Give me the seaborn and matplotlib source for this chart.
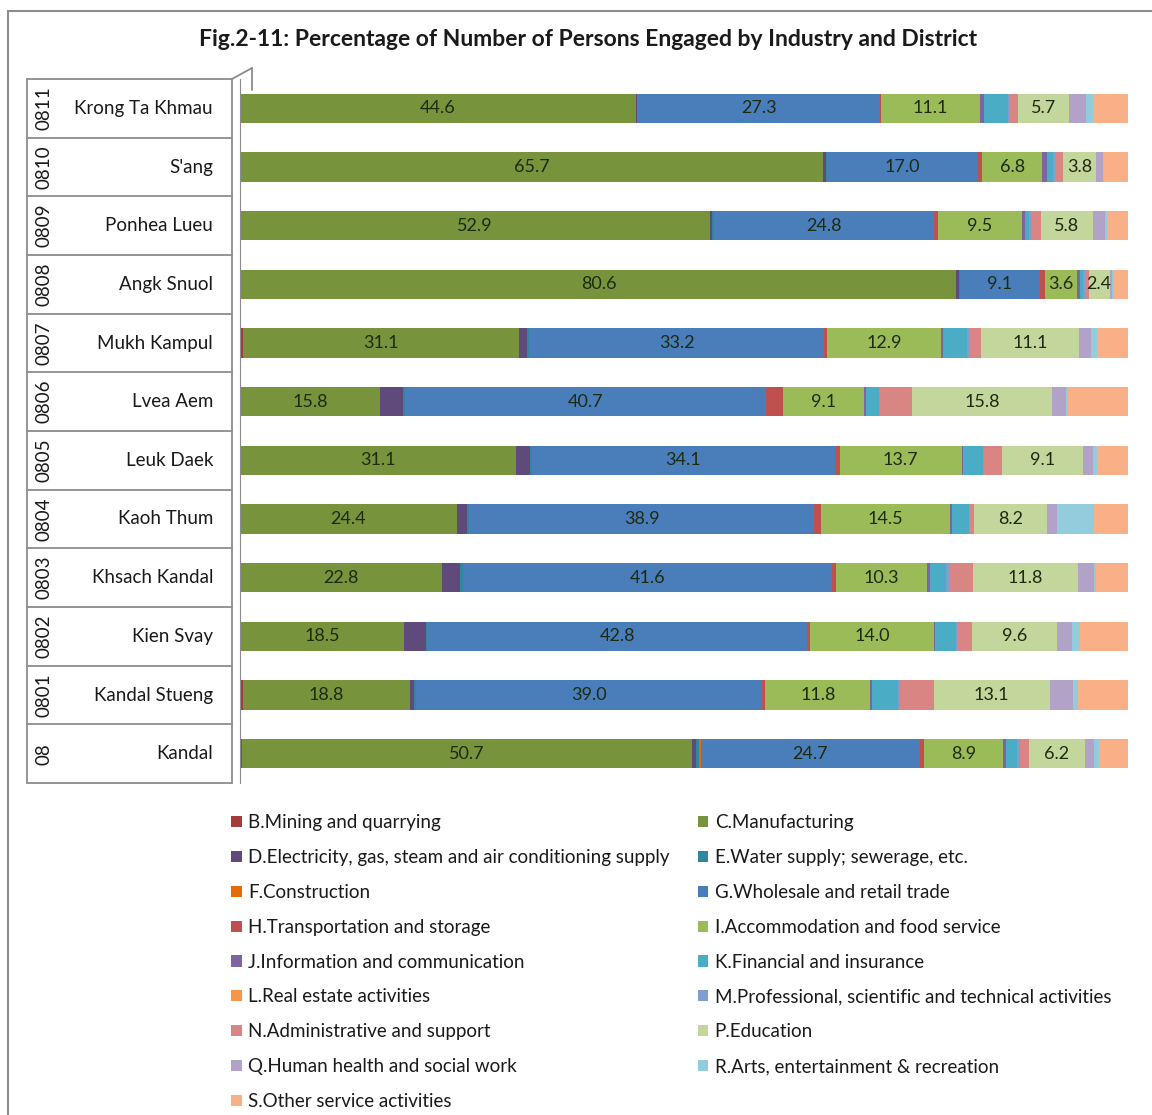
#!/usr/bin/env python3
import numpy as np
import pandas as pd
import seaborn as sns
from matplotlib import pyplot as plt
from matplotlib.patches import Patch, Rectangle
from matplotlib.lines import Line2D

codes = ["0811", "0810", "0809", "0808", "0807", "0806", "0805", "0804", "0803", "0802", "0801", "08"]
districts = ["Krong Ta Khmau", "S'ang", "Ponhea Lueu", "Angk Snuol", "Mukh Kampul", "Lvea Aem",
	"Leuk Daek", "Kaoh Thum", "Khsach Kandal", "Kien Svay", "Kandal Stueng", "Kandal"]

industries = ["B.Mining and quarrying", "C.Manufacturing",
	"D.Electricity, gas, steam and air conditioning supply", "E.Water supply; sewerage, etc.",
	"F.Construction", "G.Wholesale and retail trade", "H.Transportation and storage",
	"I.Accommodation and food service", "J.Information and communication",
	"K.Financial and insurance", "L.Real estate activities",
	"M.Professional, scientific and technical activities", "N.Administrative and support",
	"P.Education", "Q.Human health and social work", "R.Arts, entertainment & recreation",
	"S.Other service activities"]
colors = ["#A33B3A", "#77933C", "#5F4A7B", "#31859C", "#E46C0A", "#4A7EBB", "#C0504D",
	"#9BBB59", "#8064A2", "#4BACC6", "#F79646", "#7F9FCF", "#D98583", "#C3D69B",
	"#B3A2C7", "#93CDDD", "#FAB086"]

# percentages per district, order B..S (one list per industry, districts top -> bottom)
B = [0.0, 0.0, 0.0, 0.15, 0.3, 0.0, 0.0, 0.0, 0.0, 0.0, 0.3, 0.2]
C = [44.6, 65.7, 52.9, 80.6, 31.1, 15.8, 31.1, 24.4, 22.8, 18.5, 18.8, 50.7]
D = [0.1, 0.3, 0.3, 0.3, 0.9, 2.6, 1.6, 1.2, 2.0, 2.5, 0.5, 0.5]
E = [0.1, 0.1, 0.2, 0.1, 0.3, 0.2, 0.2, 0.2, 0.3, 0.1, 0.2, 0.3]
F = [0.0, 0.0, 0.0, 0.0, 0.0, 0.0, 0.0, 0.0, 0.0, 0.0, 0.0, 0.2]
G = [27.3, 17.0, 24.8, 9.1, 33.2, 40.7, 34.1, 38.9, 41.6, 42.8, 39.0, 24.7]
H = [0.2, 0.5, 0.4, 0.55, 0.3, 1.9, 0.6, 0.8, 0.4, 0.3, 0.4, 0.45]
I = [11.1, 6.8, 9.5, 3.6, 12.9, 9.1, 13.7, 14.5, 10.3, 14.0, 11.8, 8.9]
J = [0.45, 0.5, 0.3, 0.3, 0.15, 0.2, 0.2, 0.2, 0.3, 0.1, 0.25, 0.3]
K = [2.7, 0.7, 0.55, 0.4, 2.8, 1.5, 2.2, 1.9, 1.9, 2.4, 2.9, 1.3]
L = [0.0, 0.0, 0.0, 0.0, 0.0, 0.0, 0.0, 0.0, 0.0, 0.0, 0.0, 0.0]
M = [0.1, 0.2, 0.2, 0.2, 0.2, 0.1, 0.15, 0.15, 0.3, 0.1, 0.2, 0.3]
N = [1.1, 0.9, 1.1, 0.4, 1.3, 3.6, 2.0, 0.45, 2.7, 1.7, 3.8, 1.1]
P = [5.7, 3.8, 5.8, 2.4, 11.1, 15.8, 9.1, 8.2, 11.8, 9.6, 13.1, 6.2]
Q = [1.9, 0.75, 1.4, 0.3, 1.3, 1.6, 1.1, 1.2, 1.8, 1.6, 2.6, 1.1]
R = [0.8, 0.15, 0.25, 0.2, 0.75, 0.2, 0.55, 4.1, 0.3, 0.9, 0.55, 0.55]
S = [3.9, 2.6, 2.3, 1.5, 3.4, 6.7, 3.4, 3.8, 3.5, 5.4, 5.6, 3.2]

series = [B, C, D, E, F, G, H, I, J, K, L, M, N, P, Q, R, S]
labelled = {1, 5, 7, 13}  # C, G, I, P carry value labels

df = pd.DataFrame(np.array(series).T, columns=industries)
df["district"] = districts
totals = df[industries].sum(axis=1)
cum = df[industries].cumsum(axis=1)
# normalise so each bar ends at 100
cum = cum.div(totals, axis=0) * 100
cum["district"] = districts

sns.set_style("white")
plt.rcParams['font.family'] = ['Lato', 'DejaVu Sans']

fig = plt.figure(figsize=(11.52, 11.15), dpi=100)
ax = fig.add_axes([240 / 1152, 1 - 783 / 1115, 892 / 1152, 704 / 1115])

# stacked bars: draw cumulative totals from the last industry to the first
for k in range(len(industries) - 1, -1, -1):
	sns.barplot(data=cum, x=industries[k], y="district", color=colors[k], orient="h",
		width=0.5, saturation=1, ax=ax, order=districts, linewidth=0, edgecolor="none")

# value labels
for k in labelled:
	ends = cum[industries[k]].values
	starts = ends - (df[industries[k]] * 100 / totals).values
	for i, v in enumerate(df[industries[k]]):
		ax.text((starts[i] + ends[i]) / 2, i, f"{v:.1f}", ha="center", va="center",
			fontsize=13, color="#1E2A10")

ax.set_xlim(0, 100.5)
ax.set_ylim(len(districts) - 0.5, -0.5)
ax.set_xlabel("")
ax.set_ylabel("")
ax.set_xticks([])
ax.set_yticks([])
for s in ["top", "right", "bottom"]:
	ax.spines[s].set_visible(False)
ax.spines["left"].set_color("#8C8C8C")

# two-level category axis drawn as a small table
row_h = 704 / 12
for i, (code, name) in enumerate(zip(codes, districts)):
	yc = 1115 - (79 + row_h * (i + 0.5))
	fig.text(44 / 1152, yc / 1115, code, rotation=90, ha="center", va="center", fontsize=13.5, color="#1A1A1A")
	fig.text(213 / 1152, yc / 1115, name, ha="right", va="center", fontsize=13.5, color="#1A1A1A")
for i in range(13):
	yy = 1 - (79 + row_h * i) / 1115
	fig.add_artist(Line2D([27 / 1152, 232 / 1152], [yy, yy], color="#8C8C8C", lw=1.3))
fig.add_artist(Line2D([27 / 1152, 27 / 1152], [1 - 79 / 1115, 1 - 783 / 1115], color="#8C8C8C", lw=1.3))
fig.add_artist(Line2D([232 / 1152, 232 / 1152], [1 - 79 / 1115, 1 - 783 / 1115], color="#8C8C8C", lw=1.3))
fig.add_artist(Line2D([232 / 1152, 252 / 1152], [1 - 79 / 1115, 1 - 68 / 1115], color="#8C8C8C", lw=1.3))
fig.add_artist(Line2D([252 / 1152, 252 / 1152], [1 - 68 / 1115, 1 - 90 / 1115], color="#8C8C8C", lw=1.3))

# outer frame
fig.add_artist(Rectangle((8 / 1152, -0.01), 1.1, 1 - 11 / 1115 + 0.01, fill=False,
	edgecolor="#8C8C8C", lw=1.5, transform=fig.transFigure))

fig.text(588 / 1152, 1 - 40 / 1115,
	"Fig.2-11: Percentage of Number of Persons Engaged by Industry and District",
	ha="center", va="center", fontsize=16.5, fontweight="bold", color="#1A1A1A")

# legend: two columns, B/D/F... on the left, C/E/G... on the right
left_idx = list(range(0, 17, 2))
right_idx = list(range(1, 17, 2))
handles = [Patch(facecolor=colors[k], edgecolor="none", label=industries[k]) for k in left_idx + right_idx]
fig.legend(handles=handles, ncol=2, loc="upper left", bbox_to_anchor=(222 / 1152, 1 - 805 / 1115),
	frameon=False, fontsize=13.5, handlelength=0.55, handleheight=0.55, handletextpad=0.35,
	labelspacing=0.95, columnspacing=1.5, borderpad=0, labelcolor="#1A1A1A")

plt.savefig("out.png", dpi=100)
